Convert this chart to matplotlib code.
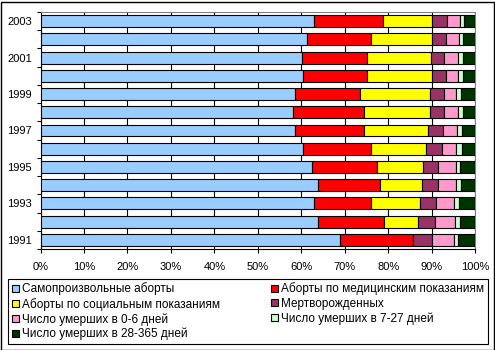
# Структура потерь: 100% гистограмма по годам

import numpy as np
import matplotlib.pyplot as plt
from matplotlib.patches import Rectangle

plt.rcParams['font.family'] = ['Liberation Sans', 'DejaVu Sans']
plt.rcParams['font.size'] = 8

years = [1991, 1992, 1993, 1994, 1995, 1996, 1997, 1998, 1999, 2000, 2001, 2002, 2003]

# доли, %
samoproizv = [68.9, 63.9, 62.9, 63.9, 62.5, 60.4, 58.6, 58.1, 58.6, 60.4, 60.2, 61.3, 62.9]
med_pokaz = [16.8, 15.0, 13.2, 14.1, 15.0, 15.7, 15.8, 16.3, 14.9, 14.8, 14.8, 14.8, 15.9]
soc_pokaz = [0.0, 8.0, 11.2, 9.8, 10.5, 12.6, 14.8, 15.1, 16.0, 14.9, 14.8, 14.0, 11.3]
mertvorozh = [4.4, 3.9, 3.7, 3.7, 3.5, 3.6, 3.4, 3.3, 3.3, 3.1, 3.0, 3.1, 3.5]
umer_0_6 = [5.0, 4.5, 4.1, 4.1, 4.1, 3.3, 3.2, 3.3, 2.8, 2.9, 3.3, 3.1, 2.9]
umer_7_27 = [0.9, 1.1, 1.1, 1.1, 0.9, 1.3, 1.1, 1.0, 1.1, 1.0, 1.0, 0.9, 0.9]
umer_28_365 = [4.0, 3.6, 3.8, 3.3, 3.5, 3.1, 3.1, 2.9, 3.3, 2.9, 2.9, 2.8, 2.6]

series = [samoproizv, med_pokaz, soc_pokaz, mertvorozh, umer_0_6, umer_7_27, umer_28_365]
labels = ['Самопроизвольные аборты', 'Аборты по медицинским показаниям',
          'Аборты по социальным показаниям', 'Мертворожденных',
          'Число умерших в 0-6 дней', 'Число умерших в 7-27 дней',
          'Число умерших в 28-365 дней']
colors = ['#99CCFF', '#FF0000', '#FFFF00', '#993366', '#FF99CC', '#CCFFCC', '#003300']

data = np.array(series, dtype=float)
data = data / data.sum(axis=0) * 100

fig = plt.figure(figsize=(4.95, 3.5), dpi=100)
ax = fig.add_axes([40.5 / 495, 1 - 249 / 350, (475.3 - 40.5) / 495, (249 - 12) / 350])

y = np.arange(len(years))
left = np.zeros(len(years))
bars = []
for vals, lab, col in zip(data, labels, colors):
    b = ax.barh(y, vals, left=left, height=0.65, color=col, edgecolor='black',
                linewidth=0.8, label=lab, zorder=3)
    bars.append(b)
    left += vals

ax.set_xlim(0, 100)
ax.set_ylim(-0.5, len(years) - 0.5)

# сетка
ax.set_xticks(np.arange(0, 101, 10))
ax.set_xticklabels([f'{v}%' for v in range(0, 101, 10)])
ax.grid(axis='x', color='black', linewidth=0.8, zorder=0)
ax.tick_params(axis='x', length=3, width=0.8, pad=6)

# деления между годами, подписи через год
ax.set_yticks(np.arange(-0.5, len(years), 1))
ax.set_yticklabels([])
ax.tick_params(axis='y', which='major', length=3, width=0.8)
ax.set_yticks(y[::2], minor=True)
ax.set_yticklabels([str(v) for v in years[::2]], minor=True)
ax.tick_params(axis='y', which='minor', length=0, pad=6)

for s in ['top', 'right']:
    ax.spines[s].set_color('#808080')
for s in ['left', 'bottom']:
    ax.spines[s].set_color('black')
for s in ax.spines.values():
    s.set_linewidth(0.8)

# легенда по строкам
order = [0, 2, 4, 6, 1, 3, 5]
leg = fig.legend([bars[i] for i in order], [labels[i] for i in order],
                 loc='upper left', ncol=2, mode='expand',
                 bbox_to_anchor=(8 / 495, 1 - 339 / 350, 480 / 495, 60 / 350),
                 fancybox=False, edgecolor='black', framealpha=1,
                 prop={'size': 8.5},
                 handlelength=0.6, handleheight=0.6, handletextpad=0.3,
                 labelspacing=0.2, borderpad=0.3, borderaxespad=0)
leg.get_frame().set_linewidth(0.8)

fig.patches.append(Rectangle((0.5 / 495, 0.5 / 350), 493 / 495, 348 / 350,
                             transform=fig.transFigure, fill=False,
                             edgecolor='black', linewidth=1))

fig.savefig('out.png', dpi=100)
